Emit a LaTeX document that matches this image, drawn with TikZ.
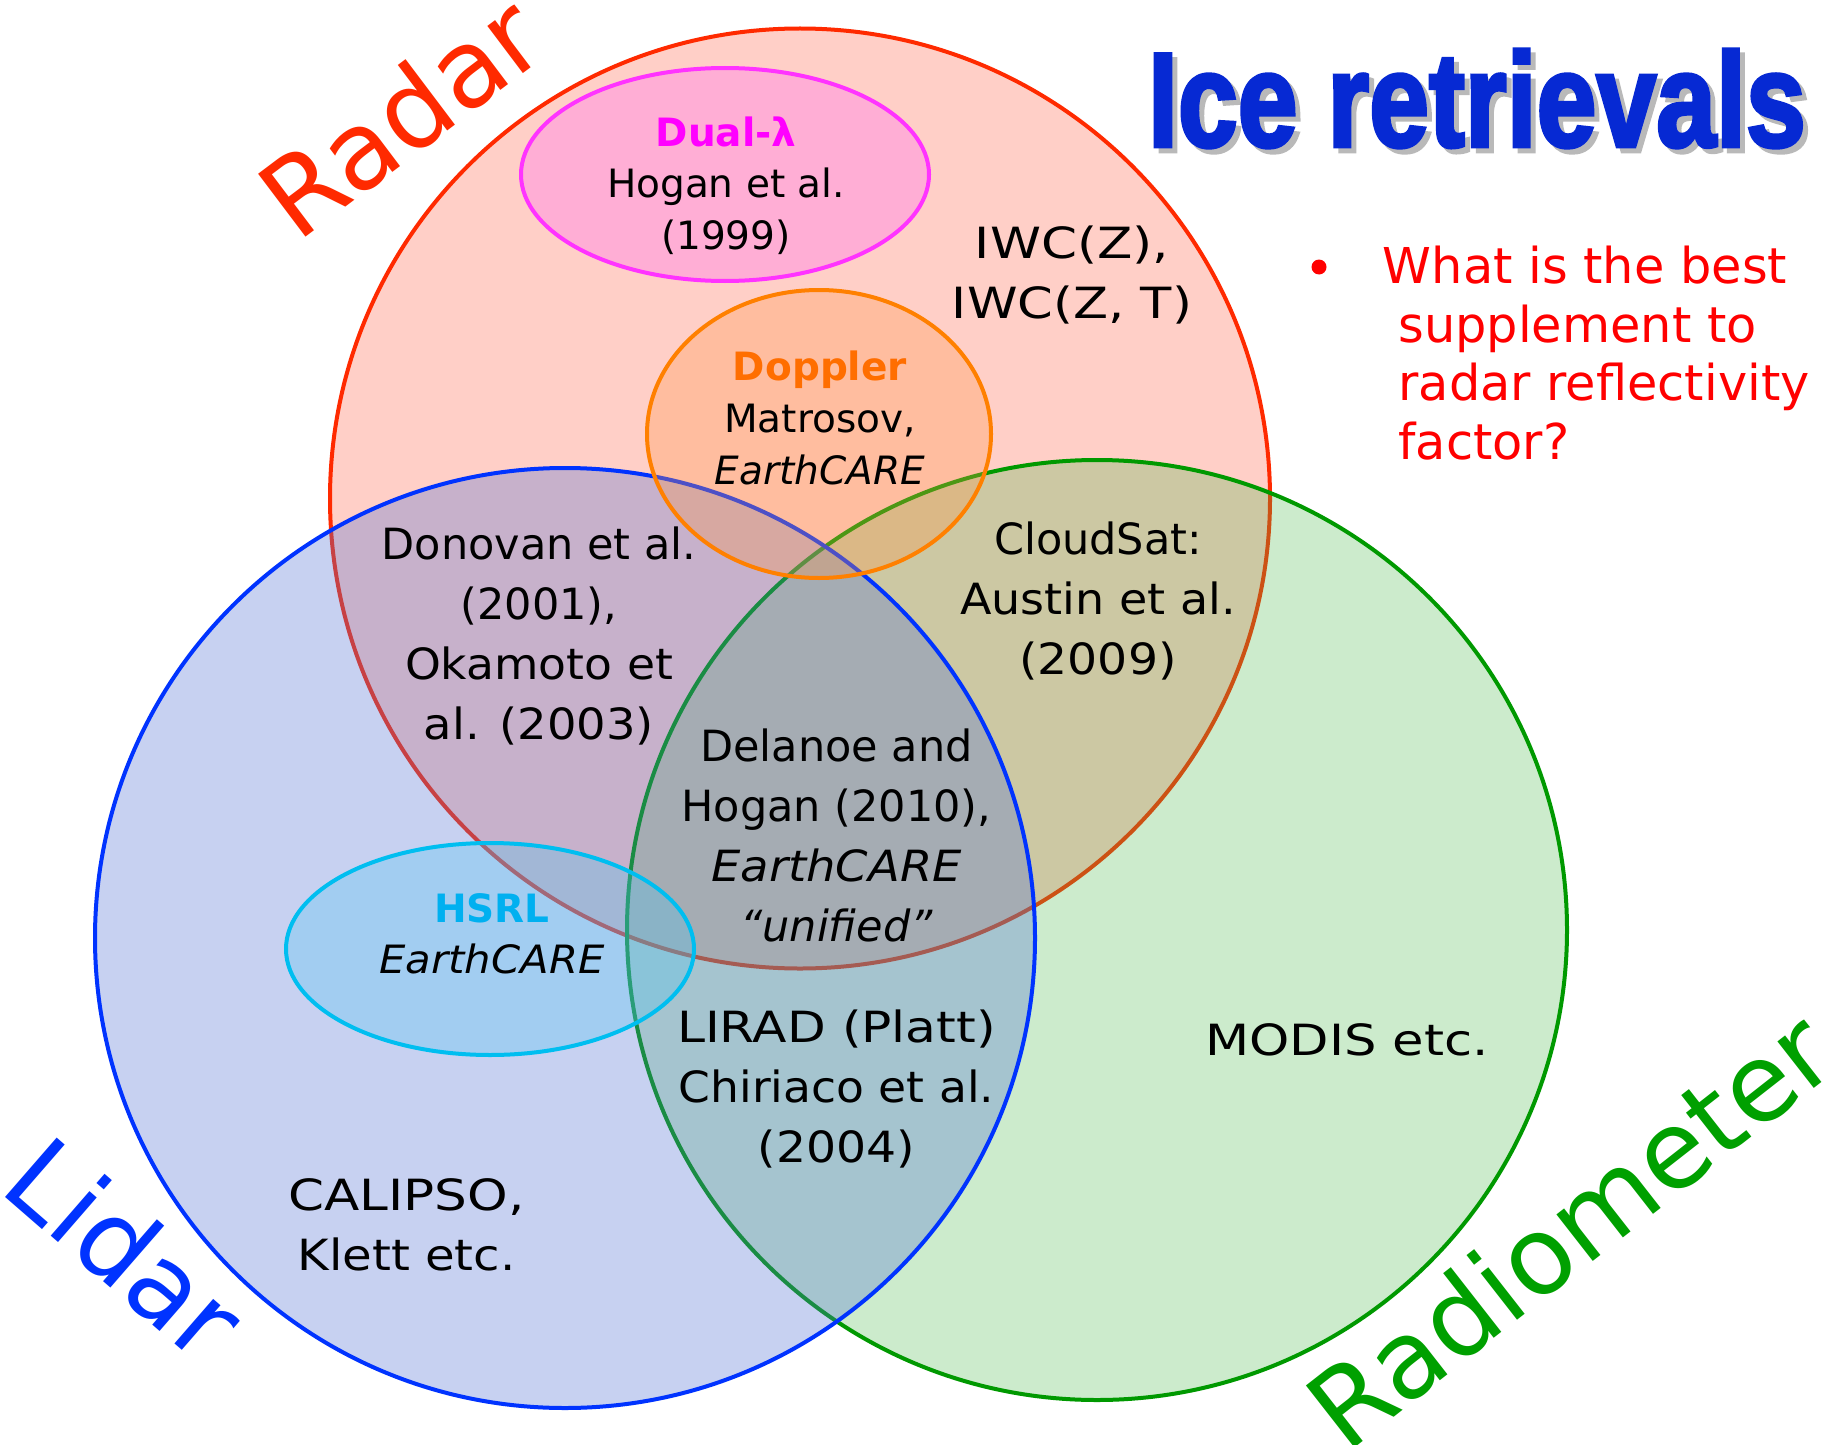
\documentclass[tikz,border=0pt]{standalone}
\usepackage{fontspec}
\usepackage{graphicx}
\setmainfont{DejaVu Sans}
\newfontfamily\titlefont{Liberation Sans}[BoldFeatures={FakeBold=3}]
\definecolor{radarline}{RGB}{255,42,0}
\definecolor{radarfill}{RGB}{255,98,72}
\definecolor{lidarline}{RGB}{0,51,255}
\definecolor{lidarfill}{RGB}{83,114,214}
\definecolor{radioline}{RGB}{0,153,0}
\definecolor{radiofill}{RGB}{73,184,73}
\definecolor{radiotext}{RGB}{0,160,0}
\definecolor{dualline}{RGB}{255,51,255}
\definecolor{dualfill}{RGB}{255,101,247}
\definecolor{dualtext}{RGB}{255,0,255}
\definecolor{dopline}{RGB}{255,128,0}
\definecolor{dopfill}{RGB}{255,148,67}
\definecolor{doptext}{RGB}{255,110,0}
\definecolor{hsrlline}{RGB}{0,190,240}
\definecolor{hsrlfill}{RGB}{77,197,242}
\definecolor{hsrltext}{RGB}{0,176,240}
\definecolor{titleblue}{RGB}{6,41,211}
\definecolor{qred}{RGB}{255,0,0}
\newcommand\wx[2]{\scalebox{#1}[1]{#2}}
\begin{document}
\begin{tikzpicture}[x=0.5pt,y=-0.5pt,
  setshape/.style={line width=2pt, fill opacity=#1},
  maintxt/.style={font=\fontsize{21.5}{30}\selectfont, align=center, inner sep=0pt, text=black},
  elltxt/.style={font=\fontsize{19.5}{25.8}\selectfont, align=center, inner sep=0pt, text=black},
  biglabel/.style={font=\fontsize{54}{60}\selectfont, inner sep=0pt},
  qline/.style={font=\fontsize{24.7}{29.3}\selectfont, text=qred, inner sep=0pt, anchor=base west}]
\fill[white] (0,0) rectangle (1837,1445);
\useasboundingbox (0,0) rectangle (1837,1445);

% set circles
\path[setshape=0.3, draw=radarline, fill=radarfill] (800,498.5) circle [x radius=470, y radius=470];
\path[setshape=0.28, draw=radioline, fill=radiofill] (1097,930) circle [x radius=470, y radius=470];
\path[setshape=0.32, draw=lidarline, fill=lidarfill] (565,938) circle [x radius=470, y radius=470];

% sub-method ellipses
\path[setshape=0.3, draw=dualline, fill=dualfill] (725,174.5) ellipse [x radius=204, y radius=106.5];
\path[setshape=0.3, draw=dopline, fill=dopfill] (819,434) ellipse [x radius=172, y radius=144];
\path[setshape=0.3, draw=hsrlline, fill=hsrlfill] (490,949) ellipse [x radius=204, y radius=106];

% set labels
\node[biglabel, text=radarline, rotate=37] (radarlbl) at (400,116) {Radar};
\node[biglabel, text=lidarline, rotate=-41] (lidarlbl) at (126,1248) {Lidar};
\node[biglabel, text=radiotext, rotate=38] (radiolbl) at (1569,1229) {Radiometer};

% title
\node[inner sep=0pt, text=gray!55] (titleshadow) at (1482,103.5) {\resizebox{329pt}{48.5pt}{\titlefont\bfseries Ice retrievals}};
\node[inner sep=0pt, text=titleblue] (title) at (1477,98.5) {\resizebox{329pt}{48.5pt}{\titlefont\bfseries Ice retrievals}};

% question
\fill[qred] (1319,267) circle [x radius=7.5, y radius=7.5];
\node[qline] (q1) at (1382.5,283) {What is the best};
\node[qline] (q2) at (1398,342.5) {supplement to};
\node[qline] (q3) at (1398,400.5) {radar reflectivity};
\node[qline] (q4) at (1398,459) {factor?};

% region texts
\node[elltxt] (dual) at (726,185.5) {{\bfseries\color{dualtext}Dual-λ}\\Hogan et al.\\(1999)};
\node[maintxt] (iwc) at (1072,275) {\wx{1.2}{IWC(Z),}\\\wx{1.19}{IWC(Z, T)}};
\node[elltxt] (doppler) at (820,418) {{\bfseries\color{doptext}Doppler}\\Matrosov,\\\itshape EarthCARE};
\node[maintxt] (donovan) at (539,636.4) {Donovan et al.\\(2001),\\\wx{1.06}{Okamoto et}\\\wx{1.08}{al. (2003)}};
\node[maintxt] (cloudsat) at (1098,601) {CloudSat:\\\wx{1.07}{Austin et al.}\\\wx{1.1}{(2009)}};
\node[maintxt] (delanoe) at (836.5,835) {Delanoe and\\Hogan (2010),\\\wx{1.08}{\itshape EarthCARE}\\\itshape “unified”};
\node[elltxt] (hsrl) at (492,933.7) {{\bfseries\color{hsrltext}HSRL}\\\wx{1.07}{\itshape EarthCARE}};
\node[maintxt] (lirad) at (836.5,1088.7) {\wx{1.17}{LIRAD (Platt)}\\\wx{1.06}{Chiriaco et al.}\\\wx{1.1}{(2004)}};
\node[maintxt] (modis) at (1347,1040) {\wx{1.19}{MODIS etc.}};
\node[maintxt] (calipso) at (406.5,1225) {\wx{1.2}{CALIPSO,}\\\wx{1.12}{Klett etc.}};
\end{tikzpicture}
\end{document}
